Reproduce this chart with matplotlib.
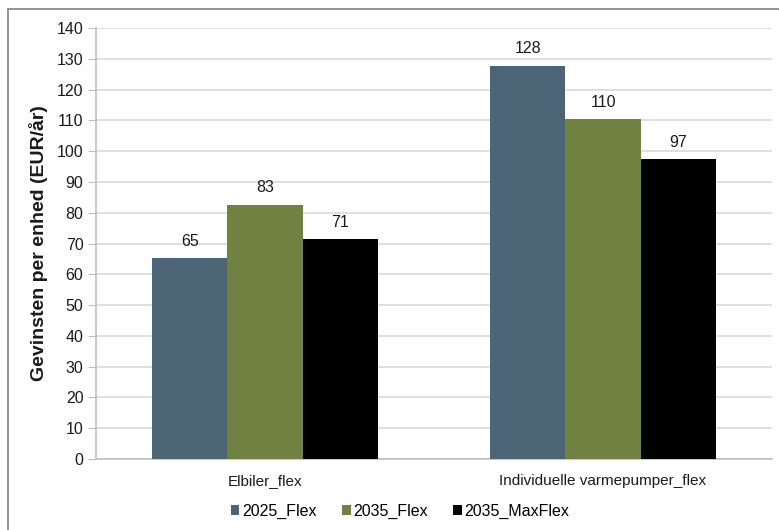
import matplotlib
matplotlib.use("Agg")
import matplotlib.pyplot as plt
from matplotlib.patches import Rectangle
import numpy as np

categories = ["Elbiler_flex", "Individuelle varmepumper_flex"]
series = ["2025_Flex", "2035_Flex", "2035_MaxFlex"]
values = {
    "2025_Flex": [65.3, 127.8],
    "2035_Flex": [82.6, 110.4],
    "2035_MaxFlex": [71.4, 97.4],
}
labels = {
    "2025_Flex": ["65", "128"],
    "2035_Flex": ["83", "110"],
    "2035_MaxFlex": ["71", "97"],
}
colors = ["#4B6577", "#6F8241", "#000000"]
yticks = list(range(0, 141, 10))

plt.rcParams['font.family'] = ['Liberation Sans', 'DejaVu Sans']

W, H = 779, 530
fig = plt.figure(figsize=(W / 100, H / 100), dpi=100)
ax = fig.add_axes([96 / W, 1 - 459 / H, (772 - 96) / W, (459 - 28) / H])

# outer frame
fig.patches.append(Rectangle((8 / W, -0.05), 1.1, 1 - 9 / H + 0.05, transform=fig.transFigure,
                             fill=False, edgecolor="#808080", linewidth=1.2))

x = np.arange(len(categories))
bw = 0.222
for i, s in enumerate(series):
    pos = x + (i - 1) * bw
    bars = ax.bar(pos, values[s], width=bw, color=colors[i], label=s, zorder=3)
    for b, lab in zip(bars, labels[s]):
        ax.text(b.get_x() + b.get_width() / 2, b.get_height() + 3, lab,
                ha="center", va="bottom", fontsize=11.5, color="#1a1a1a")

ax.set_xlim(-0.5, 1.5)
ax.set_ylim(0, 140)
ax.set_yticks(yticks)
ax.set_xticks(x)
ax.set_xticklabels(categories, fontsize=11, color="#1a1a1a")
ax.tick_params(axis="y", labelsize=11.5, colors="#1a1a1a", length=6, color="#BFBFBF", pad=3)
ax.tick_params(axis="x", length=0, pad=11)
ax.grid(axis="y", color="#D9D9D9", linewidth=1.2, zorder=0)
for sp in ["top", "right"]:
    ax.spines[sp].set_visible(False)
ax.spines["left"].set_color("#BFBFBF")
ax.spines["bottom"].set_color("#BFBFBF")
ax.spines["left"].set_linewidth(1.2)
ax.spines["bottom"].set_linewidth(1.2)
ax.set_ylabel("Gevinsten per enhed (EUR/år)", fontsize=14, fontweight="bold",
              color="#1a1a1a")
ax.yaxis.set_label_coords((48 - 96) / (772 - 96), 0.5)

leg = fig.legend(loc="center", bbox_to_anchor=(400 / W, 1 - 511 / H), ncol=3, frameon=False,
                 fontsize=11.5, handlelength=0.55, handleheight=0.55, handletextpad=0.15,
                 columnspacing=1.6)

fig.savefig("out.png", dpi=100)
